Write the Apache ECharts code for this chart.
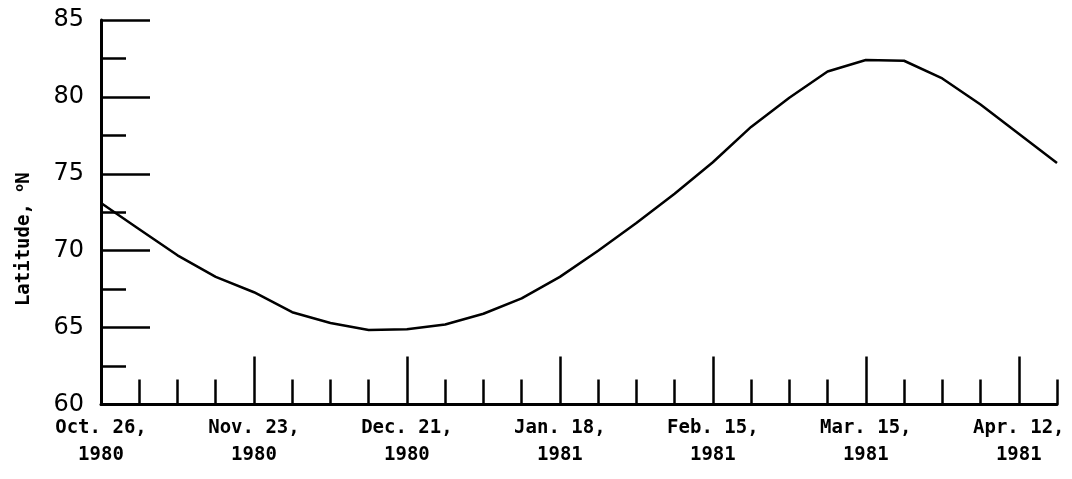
<!DOCTYPE html>
<html>
<head>
<meta charset="utf-8">
<script src="https://cdn.jsdelivr.net/npm/echarts@6/dist/echarts.min.js"></script>
<style>
html,body{margin:0;padding:0;background:#fff;}
#chart{width:1072px;height:479px;}
</style>
</head>
<body>
<div id="chart"></div>
<script>
// Weekly dates (categories)
const weeks = [
  'Oct. 26, 1980','Nov. 2, 1980','Nov. 9, 1980','Nov. 16, 1980','Nov. 23, 1980','Nov. 30, 1980',
  'Dec. 7, 1980','Dec. 14, 1980','Dec. 21, 1980','Dec. 28, 1980','Jan. 4, 1981','Jan. 11, 1981',
  'Jan. 18, 1981','Jan. 25, 1981','Feb. 1, 1981','Feb. 8, 1981','Feb. 15, 1981','Feb. 22, 1981',
  'Mar. 1, 1981','Mar. 8, 1981','Mar. 15, 1981','Mar. 22, 1981','Mar. 29, 1981','Apr. 5, 1981',
  'Apr. 12, 1981','Apr. 19, 1981'
];
// Latitude (deg N)
const latitude = [
  73.1, 71.4, 69.7, 68.3, 67.3, 66.0,
  65.3, 64.85, 64.9, 65.2, 65.9, 66.9,
  68.3, 70.0, 71.8, 73.7, 75.75, 78.05,
  79.95, 81.65, 82.4, 82.35, 81.2, 79.5,
  77.6, 75.7
];
const yTicks = { min: 60, max: 85, step: 5 };
const labelEvery = 4; // labelled (long) tick every 4 weeks

const FONT = '"DejaVu Sans Mono", monospace';
const gridLeft = 101, gridTop = 20, gridWidth = 956, gridHeight = 384.5;

const chart = echarts.init(document.getElementById('chart'), null, {renderer: 'canvas'});
chart.setOption({
  backgroundColor: '#ffffff',
  animation: false,
  grid: {left: gridLeft, top: gridTop, width: gridWidth, height: gridHeight, containLabel: false, outerBoundsMode: 'none'},
  xAxis: [
    {
      type: 'category', data: weeks, boundaryGap: false, position: 'bottom',
      axisLine: {show: true, onZero: false, lineStyle: {color: '#000', width: 3}},
      axisTick: {show: true, inside: true, length: 25, interval: 0, lineStyle: {color: '#000', width: 2.5}},
      axisLabel: {
        show: true, interval: (i) => i % labelEvery === 0,
        formatter: (v) => v.replace(', ', ',\n'),
        fontFamily: FONT, fontWeight: 'bold', fontSize: 19, color: '#000', lineHeight: 27, margin: 10
      },
      splitLine: {show: false}
    },
    {
      type: 'category', data: weeks, boundaryGap: false, position: 'top', offset: -gridHeight,
      axisLine: {show: false, onZero: false},
      axisTick: {show: true, inside: false, length: 48, interval: (i) => i % labelEvery === 0 && i > 0, lineStyle: {color: '#000', width: 2.5}},
      axisLabel: {show: false},
      splitLine: {show: false}
    }
  ],
  yAxis: {
    type: 'value', min: yTicks.min, max: yTicks.max, interval: yTicks.step,
    name: 'Latitude, {sup|o}N', nameLocation: 'middle', nameGap: 66,
    nameTextStyle: {
      fontFamily: FONT, fontWeight: 'bold', fontSize: 19, color: '#000', padding: [0, 54, 0, 0],
      rich: {sup: {fontFamily: FONT, fontWeight: 'bold', fontSize: 13, color: '#000', padding: [0, 0, 9, 0]}}
    },
    axisLine: {show: true, onZero: false, lineStyle: {color: '#000', width: 3}},
    axisTick: {show: true, inside: true, length: 49, lineStyle: {color: '#000', width: 2.5}},
    minorTick: {show: true, splitNumber: 2, length: 25, lineStyle: {color: '#000', width: 2.5}},
    axisLabel: {fontFamily: '"DejaVu Sans", sans-serif', fontSize: 24, color: '#000', margin: 17, padding: [3, 0, 0, 0]},
    splitLine: {show: false}
  },
  series: [{
    type: 'line', xAxisIndex: 0, data: latitude, showSymbol: false, symbol: 'none', smooth: false,
    lineStyle: {color: '#000', width: 2.5}
  }]
});
</script>
</body>
</html>
